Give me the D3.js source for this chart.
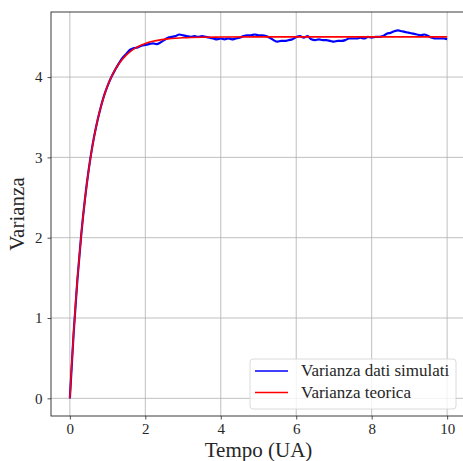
<!DOCTYPE html>
<html>
<head>
<meta charset="utf-8">
<script src="https://cdn.jsdelivr.net/npm/d3@7"></script>
<style>
body { margin:0; background:white; }
svg text { font-family:"Liberation Serif","DejaVu Serif",serif; fill:#262626; }
</style>
</head>
<body>
<div id="Main_Part"></div>
<script>
// tempo, passo 0.1
var TempoSim = d3.range(0, 101).map(function(i){ return i/10; });
var VarianzaSim = [
	0.00,0.81,1.48,2.03,2.48,2.85,3.15,3.39,3.59,3.76,
	3.89,4.00,4.09,4.17,4.24,4.29,4.34,4.36,4.37,4.39,
	4.40,4.41,4.42,4.41,4.43,4.46,4.49,4.50,4.51,4.53,
	4.52,4.51,4.50,4.51,4.50,4.51,4.50,4.49,4.48,4.47,
	4.48,4.47,4.48,4.47,4.48,4.49,4.51,4.52,4.52,4.53,
	4.52,4.52,4.51,4.49,4.46,4.44,4.45,4.45,4.46,4.47,
	4.50,4.51,4.49,4.51,4.47,4.46,4.47,4.46,4.46,4.45,
	4.44,4.45,4.45,4.46,4.48,4.48,4.48,4.49,4.48,4.50,
	4.49,4.50,4.50,4.51,4.54,4.55,4.57,4.58,4.57,4.56,
	4.55,4.54,4.53,4.52,4.53,4.51,4.49,4.48,4.48,4.48,
	4.47
];
var TempoTeo = [0,0.05,0.1,0.15,0.2,0.3,0.4,0.5,0.6,0.7,0.8,0.9,1.0,1.1,1.2,1.3,1.4,1.5,1.6,1.7,1.8,1.9,2.0,2.2,2.4,2.6,2.8,3.0,3.5,4.0,5.0,10.0];
var VarianzaTeo = [0,0.428,0.816,1.167,1.484,2.030,2.478,2.845,3.145,3.390,3.591,3.756,3.891,4.001,4.092,4.166,4.226,4.276,4.316,4.350,4.377,4.399,4.418,4.445,4.463,4.475,4.483,4.489,4.496,4.498,4.500,4.500];
var TickX = [0,2,4,6,8,10];
var TickY = [0,1,2,3,4];
var LegendNames = ["Varianza dati simulati","Varianza teorica"];
var LegendColors = ["blue","red"];

var Width = 463, Height = 461;
var Left = 51, Right = 466, Top = 12, Bottom = 416;

var Svg = d3.select('#Main_Part')
	.append("svg")
	.attr("width",Width)
	.attr("height",Height);

var XScale = d3.scaleLinear().domain([-0.5,10.5]).range([Left,Right]);
var YScale = d3.scaleLinear().domain([-0.22,4.81]).range([Bottom,Top]);

// griglia
Svg.append("g")
	.selectAll("line")
	.data(TickX)
	.enter()
	.append("line")
	.attr("x1",function(d){ return XScale(d); })
	.attr("x2",function(d){ return XScale(d); })
	.attr("y1",Top)
	.attr("y2",Bottom)
	.style("stroke","#b0b0b0")
	.style("stroke-width",0.8);

Svg.append("g")
	.selectAll("line")
	.data(TickY)
	.enter()
	.append("line")
	.attr("x1",Left)
	.attr("x2",Right)
	.attr("y1",function(d){ return YScale(d); })
	.attr("y2",function(d){ return YScale(d); })
	.style("stroke","#b0b0b0")
	.style("stroke-width",0.8);

var Line = d3.line()
	.x(function(d){ return XScale(d[0]); })
	.y(function(d){ return YScale(d[1]); })
	.curve(d3.curveMonotoneX);

Svg.append("path")
	.datum(d3.zip(TempoSim,VarianzaSim))
	.attr("d",Line)
	.style("fill","none")
	.style("stroke","blue")
	.style("stroke-width",2.2)
	.style("stroke-linejoin","round");

Svg.append("path")
	.datum(d3.zip(TempoTeo,VarianzaTeo))
	.attr("d",Line)
	.style("fill","none")
	.style("stroke","red")
	.style("stroke-width",1.6);

// assi
var XAxis = Svg.append("g")
	.attr("transform","translate(0," + Bottom + ")")
	.call(d3.axisBottom(XScale).tickValues(TickX).tickSize(3.5).tickPadding(4).tickFormat(d3.format("d")));
var YAxis = Svg.append("g")
	.attr("transform","translate(" + Left + ",0)")
	.call(d3.axisLeft(YScale).tickValues(TickY).tickSize(3.5).tickPadding(5).tickFormat(d3.format("d")));

[XAxis,YAxis].forEach(function(a){
	a.select(".domain").remove();
	a.selectAll("line").style("stroke","#262626").style("stroke-width",0.8);
	a.selectAll("text").style("font-family","Liberation Serif, serif").style("font-size","15px").style("fill","#262626");
});

Svg.append("rect")
	.attr("x",Left)
	.attr("y",Top)
	.attr("width",Right-Left)
	.attr("height",Bottom-Top)
	.style("fill","none")
	.style("stroke","#262626")
	.style("stroke-width",0.9);

Svg.append("text")
	.attr("x",(XScale(0)+XScale(10))/2)
	.attr("y",457)
	.attr("text-anchor","middle")
	.style("font-size","21px")
	.text("Tempo (UA)");

Svg.append("text")
	.attr("transform","translate(24," + ((Top+Bottom)/2) + ") rotate(-90)")
	.attr("text-anchor","middle")
	.style("font-size","21px")
	.text("Varianza");

// legenda
var Legend = Svg.append("g");
Legend.append("rect")
	.attr("x",250)
	.attr("y",359)
	.attr("width",206)
	.attr("height",50)
	.attr("rx",3)
	.style("fill","white")
	.style("fill-opacity",0.8)
	.style("stroke","#d6d6d6")
	.style("stroke-width",0.9);

Legend.selectAll(".item")
	.data(LegendNames)
	.enter()
	.append("g")
	.attr("class","item")
	.each(function(d,i){
		var G = d3.select(this);
		var Y = 371 + i*21.5;
		G.append("line")
			.attr("x1",255).attr("x2",288)
			.attr("y1",Y).attr("y2",Y)
			.style("stroke",LegendColors[i])
			.style("stroke-width",1.6);
		G.append("text")
			.attr("x",301)
			.attr("y",Y+5)
			.style("font-size","17px")
			.text(d);
	});
</script>
</body>
</html>
